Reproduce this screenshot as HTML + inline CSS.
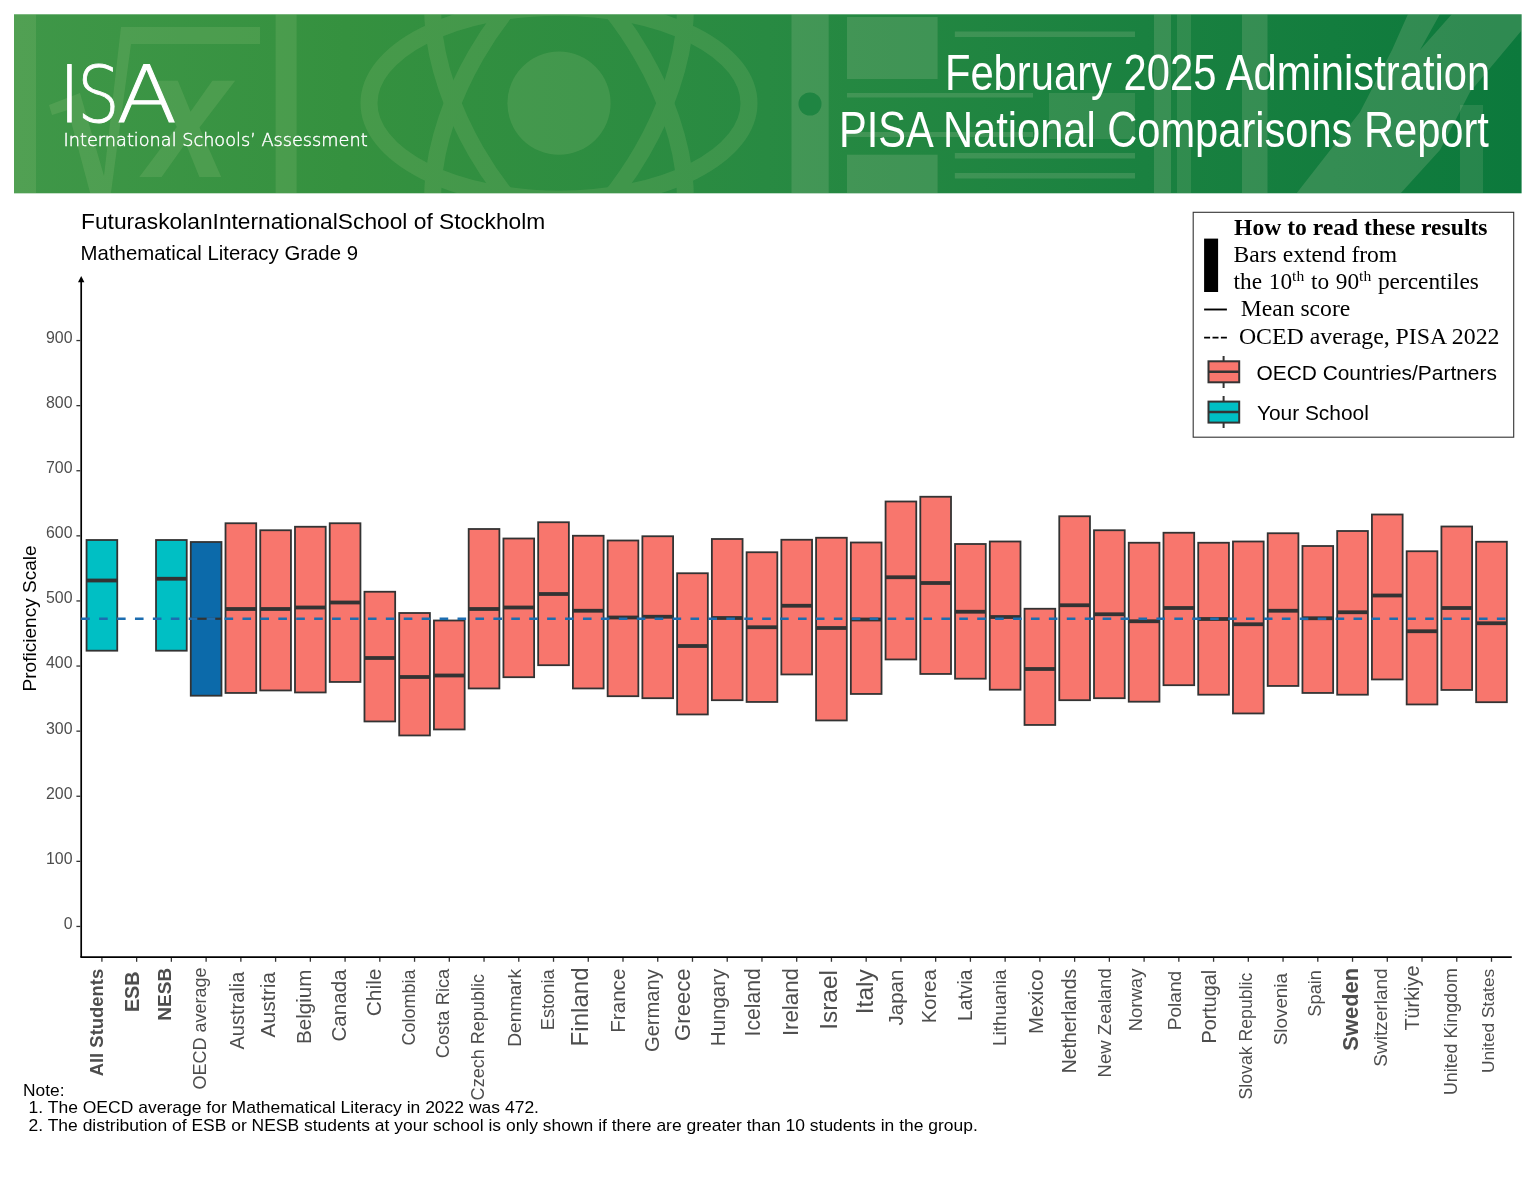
<!DOCTYPE html>
<html lang="en"><head><meta charset="utf-8"><title>PISA National Comparisons Report</title>
<style>
html,body{margin:0;padding:0;background:#fff;}
body{width:1536px;height:1187px;overflow:hidden;}
svg{display:block;}
text{font-family:"Liberation Sans",sans-serif;}
.ser{font-family:"Liberation Serif",serif;}
.lt{font-family:"DejaVu Sans Light","DejaVu Sans",sans-serif;font-weight:200;}
.ax{fill:#4d4d4d;}
</style></head><body>
<svg width="1536" height="1187" viewBox="0 0 1536 1187">

<defs>
<linearGradient id="hg" x1="0" x2="1" y1="0" y2="0">
<stop offset="0" stop-color="#3f9748"/><stop offset="0.22" stop-color="#35913f"/><stop offset="0.5" stop-color="#288a42"/><stop offset="0.75" stop-color="#1a8140"/><stop offset="1" stop-color="#0c793c"/>
</linearGradient>
<clipPath id="hc"><rect x="14" y="14.3" width="1507.6" height="179"/></clipPath>
</defs>
<rect x="14" y="14.3" width="1507.6" height="179" fill="url(#hg)"/>
<g clip-path="url(#hc)">
<g opacity="0.155" fill="#b4d090" stroke="none">
<rect x="14" y="14" width="22" height="180"/>
<path d="M49 105L80 93 104 176 121 27H260V44H131L110 200H92L68 110 52 115z"/>
<text x="146" y="177" font-size="182" font-weight="bold" font-style="italic" textLength="84" lengthAdjust="spacingAndGlyphs">x</text>
<rect x="275.6" y="14" width="21" height="180"/>
<circle cx="559" cy="103.2" r="51.6"/>
<g fill="none" stroke="#a9cc86" stroke-width="17">
<ellipse cx="559" cy="103.2" rx="190" ry="96"/>
<ellipse cx="559" cy="103.2" rx="190" ry="96" transform="rotate(60 559 103.2)"/>
<ellipse cx="559" cy="103.2" rx="190" ry="96" transform="rotate(-60 559 103.2)"/>
</g>
</g>
<g opacity="0.24" fill="#9fbf95" stroke="none">
<rect x="791.5" y="14" width="37.2" height="180"/>
<rect x="847" y="17" width="90.6" height="62"/>
<rect x="847" y="154.7" width="90.6" height="40"/>
<rect x="847" y="93" width="186" height="4.5"/>
<rect x="847" y="132" width="186" height="5"/>
<rect x="954.8" y="31.5" width="180.2" height="5.5"/>
<rect x="954.8" y="153" width="180.2" height="5.5"/>
<rect x="954.8" y="173" width="180.2" height="5.5"/>
<rect x="1154" y="14" width="17" height="180"/>
<rect x="1242" y="14" width="25.5" height="180"/>
<path d="M1296 194L1360 112 1392 50 1408 14H1440L1420 50 1452 14H1522V30L1470 92 1440 150 1400 194z"/>
</g>
<g opacity="0.18" fill="#9fbf95" stroke="none">
<rect x="1049" y="93" width="86" height="46"/>
<rect x="1177" y="14" width="14" height="180"/>
<rect x="1460" y="105" width="23" height="90"/>
</g>
<circle cx="810" cy="104" r="11.5" fill="#1f8542"/>
</g>
<g class="lt" fill="#fff" stroke="#fff">
<text class="lt" y="122.3" font-size="79" stroke-width="0.9"><tspan x="59" textLength="21" lengthAdjust="spacingAndGlyphs">I</tspan><tspan x="77.2" textLength="42.3" lengthAdjust="spacingAndGlyphs">S</tspan><tspan x="116.4" textLength="60.6" lengthAdjust="spacingAndGlyphs">A</tspan></text>
<text class="lt" x="63.6" y="146.4" font-size="18" stroke-width="0.45" textLength="304" lengthAdjust="spacingAndGlyphs">International Schools’ Assessment</text>
</g>
<text x="1490.2" y="89.5" font-size="50.5" fill="#fff" text-anchor="end" textLength="545.3" lengthAdjust="spacingAndGlyphs">February 2025 Administration</text>
<text x="1488.9" y="146.8" font-size="50.5" fill="#fff" text-anchor="end" textLength="650" lengthAdjust="spacingAndGlyphs">PISA National Comparisons Report</text>

<text x="81.0" y="229.1" font-size="22.7" fill="#000" textLength="464.3" lengthAdjust="spacingAndGlyphs">FuturaskolanInternationalSchool of Stockholm</text>
<text x="80.6" y="260.1" font-size="20.3" fill="#000" textLength="277.4" lengthAdjust="spacingAndGlyphs">Mathematical Literacy Grade 9</text>
<g stroke="#000" stroke-width="1.7" fill="none">
<path d="M81.2 957.1V279"/><path d="M80.35 957.1H1511.8"/>
</g>
<path d="M81.2 276l-3.2 6.2h6.4z" fill="#000"/>
<g stroke="#333" stroke-width="1.3">
<path d="M76.4 926.45H80.4"/>
<path d="M76.4 861.35H80.4"/>
<path d="M76.4 796.25H80.4"/>
<path d="M76.4 731.15H80.4"/>
<path d="M76.4 666.05H80.4"/>
<path d="M76.4 600.95H80.4"/>
<path d="M76.4 535.85H80.4"/>
<path d="M76.4 470.75H80.4"/>
<path d="M76.4 405.65H80.4"/>
<path d="M76.4 340.55H80.4"/>
<path d="M101.90 957.9V961.8"/>
<path d="M136.64 957.9V961.8"/>
<path d="M171.38 957.9V961.8"/>
<path d="M206.12 957.9V961.8"/>
<path d="M240.86 957.9V961.8"/>
<path d="M275.60 957.9V961.8"/>
<path d="M310.34 957.9V961.8"/>
<path d="M345.08 957.9V961.8"/>
<path d="M379.82 957.9V961.8"/>
<path d="M414.56 957.9V961.8"/>
<path d="M449.30 957.9V961.8"/>
<path d="M484.04 957.9V961.8"/>
<path d="M518.78 957.9V961.8"/>
<path d="M553.52 957.9V961.8"/>
<path d="M588.26 957.9V961.8"/>
<path d="M623.00 957.9V961.8"/>
<path d="M657.74 957.9V961.8"/>
<path d="M692.48 957.9V961.8"/>
<path d="M727.22 957.9V961.8"/>
<path d="M761.96 957.9V961.8"/>
<path d="M796.70 957.9V961.8"/>
<path d="M831.44 957.9V961.8"/>
<path d="M866.18 957.9V961.8"/>
<path d="M900.92 957.9V961.8"/>
<path d="M935.66 957.9V961.8"/>
<path d="M970.40 957.9V961.8"/>
<path d="M1005.14 957.9V961.8"/>
<path d="M1039.88 957.9V961.8"/>
<path d="M1074.62 957.9V961.8"/>
<path d="M1109.36 957.9V961.8"/>
<path d="M1144.10 957.9V961.8"/>
<path d="M1178.84 957.9V961.8"/>
<path d="M1213.58 957.9V961.8"/>
<path d="M1248.32 957.9V961.8"/>
<path d="M1283.06 957.9V961.8"/>
<path d="M1317.80 957.9V961.8"/>
<path d="M1352.54 957.9V961.8"/>
<path d="M1387.28 957.9V961.8"/>
<path d="M1422.02 957.9V961.8"/>
<path d="M1456.76 957.9V961.8"/>
<path d="M1491.50 957.9V961.8"/>
</g>
<g class="ax" font-size="15.9" text-anchor="end">
<text class="ax" x="72.5" y="928.85">0</text>
<text class="ax" x="72.5" y="863.75">100</text>
<text class="ax" x="72.5" y="798.65">200</text>
<text class="ax" x="72.5" y="733.55">300</text>
<text class="ax" x="72.5" y="668.45">400</text>
<text class="ax" x="72.5" y="603.35">500</text>
<text class="ax" x="72.5" y="538.25">600</text>
<text class="ax" x="72.5" y="473.15">700</text>
<text class="ax" x="72.5" y="408.05">800</text>
<text class="ax" x="72.5" y="342.95">900</text>
</g>
<text transform="translate(36 691.5) rotate(-90)" font-size="19.07" fill="#000">Proficiency Scale</text>
<g stroke="#333" stroke-width="1.80">
<rect x="86.55" y="540.00" width="30.70" height="110.70" fill="#00BFC4"/>
<rect x="156.03" y="540.00" width="30.70" height="110.70" fill="#00BFC4"/>
<rect x="190.77" y="542.00" width="30.70" height="153.70" fill="#0C6AAA"/>
<rect x="225.51" y="523.25" width="30.70" height="169.70" fill="#F8766D"/>
<rect x="260.25" y="530.25" width="30.70" height="160.20" fill="#F8766D"/>
<rect x="294.99" y="526.75" width="30.70" height="165.70" fill="#F8766D"/>
<rect x="329.73" y="523.25" width="30.70" height="158.70" fill="#F8766D"/>
<rect x="364.47" y="591.75" width="30.70" height="129.70" fill="#F8766D"/>
<rect x="399.21" y="613.00" width="30.70" height="122.45" fill="#F8766D"/>
<rect x="433.95" y="620.50" width="30.70" height="108.95" fill="#F8766D"/>
<rect x="468.69" y="529.00" width="30.70" height="159.45" fill="#F8766D"/>
<rect x="503.43" y="538.50" width="30.70" height="138.70" fill="#F8766D"/>
<rect x="538.17" y="522.25" width="30.70" height="142.95" fill="#F8766D"/>
<rect x="572.91" y="535.75" width="30.70" height="152.70" fill="#F8766D"/>
<rect x="607.65" y="540.50" width="30.70" height="155.70" fill="#F8766D"/>
<rect x="642.39" y="536.25" width="30.70" height="161.95" fill="#F8766D"/>
<rect x="677.13" y="573.25" width="30.70" height="141.20" fill="#F8766D"/>
<rect x="711.87" y="539.00" width="30.70" height="161.20" fill="#F8766D"/>
<rect x="746.61" y="552.25" width="30.70" height="149.70" fill="#F8766D"/>
<rect x="781.35" y="539.75" width="30.70" height="134.70" fill="#F8766D"/>
<rect x="816.09" y="537.75" width="30.70" height="182.70" fill="#F8766D"/>
<rect x="850.83" y="542.50" width="30.70" height="151.45" fill="#F8766D"/>
<rect x="885.57" y="501.50" width="30.70" height="157.95" fill="#F8766D"/>
<rect x="920.31" y="496.75" width="30.70" height="177.20" fill="#F8766D"/>
<rect x="955.05" y="544.00" width="30.70" height="134.70" fill="#F8766D"/>
<rect x="989.79" y="541.50" width="30.70" height="148.20" fill="#F8766D"/>
<rect x="1024.53" y="608.75" width="30.70" height="116.20" fill="#F8766D"/>
<rect x="1059.27" y="516.25" width="30.70" height="183.95" fill="#F8766D"/>
<rect x="1094.01" y="530.25" width="30.70" height="167.95" fill="#F8766D"/>
<rect x="1128.75" y="542.75" width="30.70" height="158.95" fill="#F8766D"/>
<rect x="1163.49" y="532.75" width="30.70" height="152.45" fill="#F8766D"/>
<rect x="1198.23" y="542.75" width="30.70" height="151.95" fill="#F8766D"/>
<rect x="1232.97" y="541.50" width="30.70" height="171.95" fill="#F8766D"/>
<rect x="1267.71" y="533.25" width="30.70" height="152.70" fill="#F8766D"/>
<rect x="1302.45" y="546.00" width="30.70" height="146.95" fill="#F8766D"/>
<rect x="1337.19" y="531.00" width="30.70" height="163.70" fill="#F8766D"/>
<rect x="1371.93" y="514.50" width="30.70" height="164.95" fill="#F8766D"/>
<rect x="1406.67" y="551.25" width="30.70" height="153.20" fill="#F8766D"/>
<rect x="1441.41" y="526.50" width="30.70" height="163.45" fill="#F8766D"/>
<rect x="1476.15" y="541.75" width="30.70" height="160.45" fill="#F8766D"/>
</g>
<g stroke="#333" stroke-width="3.8">
<path d="M86.55 580.50h30.70"/>
<path d="M156.03 578.75h30.70"/>
<path d="M190.77 618.75h30.70" stroke-width="2.2"/>
<path d="M225.51 609.00h30.70"/>
<path d="M260.25 609.00h30.70"/>
<path d="M294.99 607.50h30.70"/>
<path d="M329.73 602.50h30.70"/>
<path d="M364.47 658.00h30.70"/>
<path d="M399.21 677.00h30.70"/>
<path d="M433.95 675.50h30.70"/>
<path d="M468.69 609.00h30.70"/>
<path d="M503.43 607.50h30.70"/>
<path d="M538.17 594.00h30.70"/>
<path d="M572.91 610.75h30.70"/>
<path d="M607.65 617.50h30.70"/>
<path d="M642.39 616.75h30.70"/>
<path d="M677.13 646.00h30.70"/>
<path d="M711.87 618.00h30.70"/>
<path d="M746.61 627.25h30.70"/>
<path d="M781.35 605.75h30.70"/>
<path d="M816.09 628.00h30.70"/>
<path d="M850.83 619.50h30.70"/>
<path d="M885.57 577.25h30.70"/>
<path d="M920.31 583.00h30.70"/>
<path d="M955.05 611.75h30.70"/>
<path d="M989.79 617.00h30.70"/>
<path d="M1024.53 669.00h30.70"/>
<path d="M1059.27 605.25h30.70"/>
<path d="M1094.01 614.25h30.70"/>
<path d="M1128.75 621.25h30.70"/>
<path d="M1163.49 608.00h30.70"/>
<path d="M1198.23 619.00h30.70"/>
<path d="M1232.97 624.25h30.70"/>
<path d="M1267.71 610.75h30.70"/>
<path d="M1302.45 618.25h30.70"/>
<path d="M1337.19 612.25h30.70"/>
<path d="M1371.93 595.50h30.70"/>
<path d="M1406.67 631.25h30.70"/>
<path d="M1441.41 608.00h30.70"/>
<path d="M1476.15 623.25h30.70"/>
</g>
<path d="M81.2 618.75H1511.5" stroke="#1C6DB0" stroke-width="2.4" stroke-dasharray="8.6 9.32" fill="none"/>
<g class="ax">
<text class="ax" transform="translate(103.20 1076.37) rotate(-90)" font-size="18.47" font-weight="bold">All Students</text>
<text class="ax" transform="translate(139.00 1012.09) rotate(-90)" font-size="19.81" font-weight="bold">ESB</text>
<text class="ax" transform="translate(170.80 1020.64) rotate(-90)" font-size="19.02" font-weight="bold">NESB</text>
<text class="ax" transform="translate(205.60 1089.62) rotate(-90)" font-size="18.05">OECD average</text>
<text class="ax" transform="translate(243.90 1049.50) rotate(-90)" font-size="20.03">Australia</text>
<text class="ax" transform="translate(275.40 1037.40) rotate(-90)" font-size="21.02">Austria</text>
<text class="ax" transform="translate(310.60 1044.05) rotate(-90)" font-size="20.64">Belgium</text>
<text class="ax" transform="translate(346.40 1041.53) rotate(-90)" font-size="20.60">Canada</text>
<text class="ax" transform="translate(380.50 1016.25) rotate(-90)" font-size="20.93">Chile</text>
<text class="ax" transform="translate(414.90 1045.40) rotate(-90)" font-size="18.00">Colombia</text>
<text class="ax" transform="translate(449.30 1058.32) rotate(-90)" font-size="18.33">Costa Rica</text>
<text class="ax" transform="translate(484.00 1100.40) rotate(-90)" font-size="18.06">Czech Republic</text>
<text class="ax" transform="translate(520.60 1046.74) rotate(-90)" font-size="19.21">Denmark</text>
<text class="ax" transform="translate(553.60 1030.26) rotate(-90)" font-size="18.26">Estonia</text>
<text class="ax" transform="translate(588.40 1046.43) rotate(-90)" font-size="24.14">Finland</text>
<text class="ax" transform="translate(624.90 1032.85) rotate(-90)" font-size="20.66">France</text>
<text class="ax" transform="translate(659.30 1052.01) rotate(-90)" font-size="20.11">Germany</text>
<text class="ax" transform="translate(690.10 1040.90) rotate(-90)" font-size="22.08">Greece</text>
<text class="ax" transform="translate(724.90 1046.14) rotate(-90)" font-size="20.51">Hungary</text>
<text class="ax" transform="translate(760.10 1036.41) rotate(-90)" font-size="21.18">Iceland</text>
<text class="ax" transform="translate(797.70 1036.10) rotate(-90)" font-size="22.26">Ireland</text>
<text class="ax" transform="translate(837.10 1029.80) rotate(-90)" font-size="24.46">Israel</text>
<text class="ax" transform="translate(873.30 1014.20) rotate(-90)" font-size="24.48">Italy</text>
<text class="ax" transform="translate(902.50 1025.40) rotate(-90)" font-size="20.46">Japan</text>
<text class="ax" transform="translate(936.10 1023.21) rotate(-90)" font-size="20.18">Korea</text>
<text class="ax" transform="translate(971.90 1021.05) rotate(-90)" font-size="19.37">Latvia</text>
<text class="ax" transform="translate(1005.50 1046.01) rotate(-90)" font-size="18.88">Lithuania</text>
<text class="ax" transform="translate(1042.80 1033.93) rotate(-90)" font-size="20.42">Mexico</text>
<text class="ax" transform="translate(1075.70 1073.25) rotate(-90)" font-size="19.39">Netherlands</text>
<text class="ax" transform="translate(1111.10 1077.48) rotate(-90)" font-size="18.54">New Zealand</text>
<text class="ax" transform="translate(1141.80 1031.28) rotate(-90)" font-size="18.49">Norway</text>
<text class="ax" transform="translate(1181.10 1030.33) rotate(-90)" font-size="19.11">Poland</text>
<text class="ax" transform="translate(1215.50 1043.48) rotate(-90)" font-size="19.79">Portugal</text>
<text class="ax" transform="translate(1251.70 1099.51) rotate(-90)" font-size="17.71">Slovak Republic</text>
<text class="ax" transform="translate(1287.10 1045.25) rotate(-90)" font-size="18.84">Slovenia</text>
<text class="ax" transform="translate(1320.50 1016.63) rotate(-90)" font-size="18.24">Spain</text>
<text class="ax" transform="translate(1357.80 1050.64) rotate(-90)" font-size="21.88" font-weight="bold">Sweden</text>
<text class="ax" transform="translate(1387.20 1066.76) rotate(-90)" font-size="19.06">Switzerland</text>
<text class="ax" transform="translate(1419.10 1030.60) rotate(-90)" font-size="19.86">Türkiye</text>
<text class="ax" transform="translate(1457.10 1095.05) rotate(-90)" font-size="17.83">United Kingdom</text>
<text class="ax" transform="translate(1493.60 1072.91) rotate(-90)" font-size="17.35">United States</text>
</g>
<g font-size="17.35" fill="#000">
<text x="23.0" y="1095.8">Note:</text>
<text x="28.6" y="1113.4" textLength="510.4" lengthAdjust="spacingAndGlyphs">1. The OECD average for Mathematical Literacy in 2022 was 472.</text>
<text x="28.6" y="1130.8" textLength="949.2" lengthAdjust="spacingAndGlyphs">2. The distribution of ESB or NESB students at your school is only shown if there are greater than 10 students in the group.</text>
</g>
<rect x="1193.2" y="212.3" width="320.5" height="224.9" fill="#fff" stroke="#333" stroke-width="1.1"/>
<g class="ser" fill="#000" font-size="23.3">
<text class="ser" x="1234.1" y="235.0" font-weight="bold" font-size="23.6">How to read these results</text>
<text class="ser" x="1233.6" y="262.0" textLength="163.6" lengthAdjust="spacingAndGlyphs">Bars extend from</text>
<text class="ser" x="1233.6" y="289.3" word-spacing="0.9">the 10<tspan font-size="15.6" dy="-8.5">th</tspan><tspan dy="8.5"> to 90</tspan><tspan font-size="15.6" dy="-8.5">th</tspan><tspan dy="8.5"> percentiles</tspan></text>
<text class="ser" x="1240.7" y="315.8" textLength="109.6" lengthAdjust="spacingAndGlyphs">Mean score</text>
<text class="ser" x="1238.9" y="343.8" textLength="260.6" lengthAdjust="spacingAndGlyphs">OCED average, PISA 2022</text>
</g>
<rect x="1204.1" y="238.6" width="14" height="53.4" fill="#000"/>
<path d="M1204.1 309.5H1226.9" stroke="#000" stroke-width="1.9"/>
<path d="M1204.1 337.7H1226.9" stroke="#000" stroke-width="1.8" stroke-dasharray="6 2.4"/>
<g stroke="#333" stroke-width="2">
<path d="M1223.6 355.9V388M1223.6 395.9V428" fill="none"/>
<rect x="1208.5" y="361.3" width="30.7" height="21" fill="#F8766D"/>
<rect x="1208.5" y="401.6" width="30.7" height="21" fill="#00BFC4"/>
<path d="M1208.5 371.7H1239.2M1208.5 412H1239.2" stroke-width="2.6"/>
</g>
<g font-size="20.9" fill="#000">
<text x="1256.5" y="379.9">OECD Countries/Partners</text>
<text x="1256.9" y="419.5">Your School</text>
</g>

</svg></body></html>
